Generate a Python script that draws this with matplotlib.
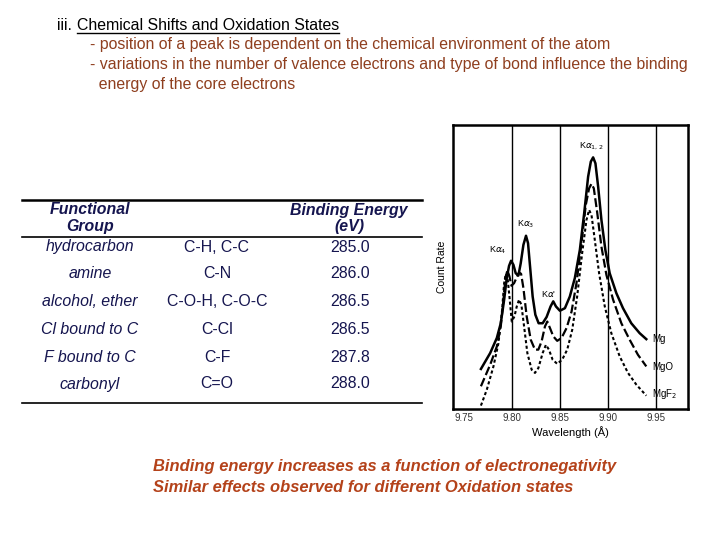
import numpy as np
import matplotlib
matplotlib.use("Agg")
import matplotlib.pyplot as plt

plt.rcParams['font.family'] = ['Liberation Sans', 'DejaVu Sans']

# ---- text content ----
title_num = "iii."
title_txt = "Chemical Shifts and Oxidation States"
bullets = ["- position of a peak is dependent on the chemical environment of the atom",
           "- variations in the number of valence electrons and type of bond influence the binding",
           "  energy of the core electrons"]
footer = ["Binding energy increases as a function of electronegativity",
          "Similar effects observed for different Oxidation states"]

# ---- table ----
groups = ["hydrocarbon", "amine", "alcohol, ether", "Cl bound to C", "F bound to C", "carbonyl"]
bonds = ["C-H, C-C", "C-N", "C-O-H, C-O-C", "C-Cl", "C-F", "C=O"]
energies = ["285.0", "286.0", "286.5", "286.5", "287.8", "288.0"]

# ---- spectra ----
mg_x = [9.768, 9.7776, 9.7845, 9.7886, 9.7921, 9.7948, 9.7972, 9.7993, 9.8017, 9.8041,
        9.8069, 9.8093, 9.8121, 9.8148, 9.8169, 9.819, 9.8217, 9.8245, 9.8279, 9.8321,
        9.8362, 9.8403, 9.8431, 9.8459, 9.85, 9.8552, 9.8603, 9.8655, 9.8707, 9.8752,
        9.8793, 9.8821, 9.8845, 9.8869, 9.8897, 9.8931, 9.8972, 9.9017, 9.9086, 9.9155,
        9.9241, 9.9328, 9.9397]
mg_y = [14.1, 19.7, 25.0, 30.2, 38.5, 46.1, 50.4, 52.2, 50.8, 47.8,
        47.0, 51.3, 57.8, 61.0, 58.4, 50.2, 39.6, 33.2, 30.2, 30.2,
        32.4, 36.1, 37.9, 36.1, 34.6, 35.5, 39.6, 46.1, 56.0, 68.9,
        81.8, 87.1, 88.6, 86.5, 78.3, 66.6, 56.0, 47.8, 40.8, 35.5,
        30.2, 26.7, 24.6]

mgo_x = [9.768, 9.7776, 9.7845, 9.7886, 9.7914, 9.7934, 9.7955, 9.7976, 9.7997, 9.8024,
         9.8052, 9.8076, 9.8097, 9.8121, 9.8155, 9.8197, 9.8241, 9.8276, 9.831, 9.8345,
         9.8369, 9.8397, 9.8431, 9.8472, 9.8517, 9.8569, 9.8621, 9.8672, 9.8724, 9.8769,
         9.8803, 9.8828, 9.8852, 9.8886, 9.8931, 9.8983, 9.9052, 9.9138, 9.9224, 9.931,
         9.9397]
mgo_y = [8.0, 15.6, 22.0, 29.1, 38.5, 46.1, 48.8, 46.7, 43.4, 44.3,
         46.4, 48.1, 47.6, 42.6, 32.6, 24.4, 20.9, 20.9, 23.8, 29.1,
         30.8, 28.5, 25.6, 24.0, 25.0, 28.5, 34.3, 44.3, 58.4, 71.9,
         77.7, 79.3, 77.7, 69.5, 57.2, 47.2, 38.5, 30.2, 24.4, 19.1,
         15.0]

mgf2_x = [9.768, 9.7741, 9.781, 9.7862, 9.7897, 9.7921, 9.7938, 9.7955, 9.7976, 9.80,
          9.8028, 9.8052, 9.8076, 9.81, 9.8128, 9.8162, 9.8207, 9.8241, 9.8276, 9.8321,
          9.8355, 9.8386, 9.8424, 9.8472, 9.8524, 9.8576, 9.8628, 9.8679, 9.8731, 9.8776,
          9.8803, 9.8828, 9.8862, 9.8907, 9.8966, 9.9034, 9.9121, 9.9207, 9.9293, 9.9397]
mgf2_y = [1.2, 6.8, 15.0, 23.2, 33.8, 44.3, 47.6, 46.7, 39.6, 30.8,
          32.6, 36.1, 38.5, 36.7, 29.1, 19.7, 13.8, 12.7, 14.4, 19.7,
          22.6, 20.9, 17.4, 15.9, 17.4, 20.9, 27.9, 39.6, 54.9, 66.6,
          70.1, 68.3, 59.6, 47.8, 36.1, 26.7, 18.5, 12.7, 8.6, 4.7]

grid_x = [9.80, 9.85, 9.90, 9.95]
xticks = [9.75, 9.80, 9.85, 9.90, 9.95]

fig = plt.figure(figsize=(7.2, 5.4), dpi=100)

# full-figure overlay in pixel coordinates for the slide text and table
bg = fig.add_axes([0, 0, 1, 1])
bg.set_xlim(0, 720)
bg.set_ylim(540, 0)
bg.axis('off')

brown = '#8f3f1f'
navy = '#15154f'
rust = '#b4421a'
fs = 11.4

bg.text(57, 25, title_num, fontsize=fs, va='center', ha='left', color='black')
t = bg.text(77, 25, title_txt, fontsize=fs, va='center', ha='left', color='black')
fig.canvas.draw()
bb = t.get_window_extent().transformed(bg.transData.inverted())
bg.plot([bb.x0, bb.x1], [33, 33], color='black', lw=1)

bg.text(90, 45, bullets[0], fontsize=fs, va='center', color=brown)
bg.text(90, 65, bullets[1], fontsize=fs, va='center', color=brown)
bg.text(90, 84, bullets[2], fontsize=fs, va='center', color=brown)

# table
bg.plot([22, 422], [200, 200], color='black', lw=1.8)
bg.plot([22, 422], [237, 237], color='black', lw=1.2)
bg.plot([22, 422], [403, 403], color='black', lw=1.2)
hdr = dict(fontsize=11.4, fontweight='bold', fontstyle='italic', color=navy,
           ha='center', va='center')
bg.text(90, 210, "Functional", **hdr)
bg.text(90, 227, "Group", **hdr)
bg.text(349, 210, "Binding Energy", **hdr)
bg.text(349, 227, "(eV)", **hdr)
row_y = [247, 274, 302, 330, 357, 384]
for yy, g, b, e in zip(row_y, groups, bonds, energies):
    bg.text(90, yy, g, fontsize=11.4, fontstyle='italic', color=navy, ha='center', va='center')
    bg.text(217, yy, b, fontsize=11.4, color=navy, ha='center', va='center')
    bg.text(350, yy, e, fontsize=11.4, color=navy, ha='center', va='center')

bg.text(153, 466, footer[0], fontsize=11.9, fontweight='bold', fontstyle='italic',
        color=rust, va='center')
bg.text(153, 488, footer[1], fontsize=11.9, fontweight='bold', fontstyle='italic',
        color=rust, va='center')

# spectrum plot
ax = fig.add_axes([453 / 720, 1 - 409 / 540, 235 / 720, 284 / 540])
for gx in grid_x:
    ax.axvline(gx, color='black', lw=1)
ax.plot(mg_x, mg_y, color='black', lw=1.8, ls='-')
ax.plot(mgo_x, mgo_y, color='black', lw=1.6, ls=(0, (4, 1.5)))
ax.plot(mgf2_x, mgf2_y, color='black', lw=1.5, ls=(0, (1.5, 1.2)))
ax.set_xlim(9.739, 9.983)
ax.set_ylim(0, 100)
ax.set_xticks(xticks)
ax.set_xticklabels(["%.2f" % v for v in xticks], fontsize=7, color='#333333')
ax.tick_params(axis='x', length=0, pad=3)
ax.set_yticks([])
for s in ax.spines.values():
    s.set_linewidth(1.8)
ax.set_xlabel("Wavelength (Å)", fontsize=8, labelpad=2)
ax.set_ylabel("Count Rate", fontsize=7.5, labelpad=4)

lbl = dict(fontsize=6.5, ha='center', va='center')
ax.text(9.883, 92.5, r"K$\alpha_{1,2}$", **lbl)
ax.text(9.815, 65, r"K$\alpha_3$", **lbl)
ax.text(9.786, 56, r"K$\alpha_4$", **lbl)
ax.text(9.838, 40.5, r"K$\alpha$'", **lbl)
ax.text(9.946, 24.5, "Mg", fontsize=7, ha='left', va='center')
ax.text(9.946, 14.8, "MgO", fontsize=7, ha='left', va='center')
ax.text(9.946, 5.2, r"MgF$_2$", fontsize=7, ha='left', va='center')

fig.savefig("out.png", dpi=100)
